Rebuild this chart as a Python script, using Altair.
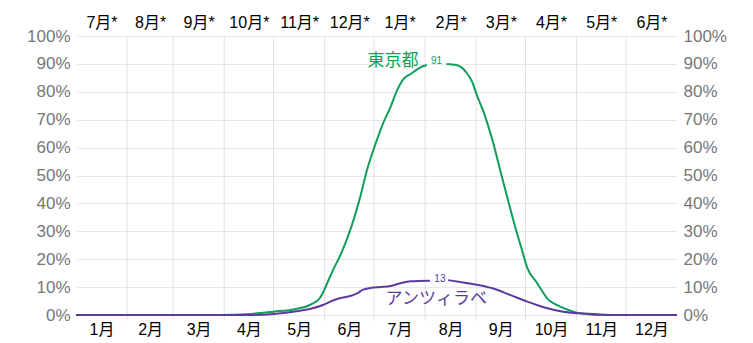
import json
import altair as alt
import pandas as pd

# ---- data ----
month_starts = [31, 59, 90, 120, 151, 181, 212, 243, 273, 304, 334]
month_mids = [15.5, 45, 74.5, 105, 135.5, 166, 196.5, 227.5, 258, 288.5, 319, 349.5]
bottom_labels = ["1月", "2月", "3月", "4月", "5月", "6月", "7月", "8月", "9月", "10月", "11月", "12月"]
top_labels = ["7月*", "8月*", "9月*", "10月*", "11月*", "12月*", "1月*", "2月*", "3月*", "4月*", "5月*", "6月*"]
y_ticks = [0, 10, 20, 30, 40, 50, 60, 70, 80, 90, 100]

tokyo_day = [0, 60, 87, 106, 120, 132, 143, 148, 150, 153, 156, 161, 166, 172, 177, 182, 186, 191, 195, 199, 203, 209, 213,
             225, 231, 237, 241, 243, 248, 253, 258, 262, 267, 271, 274, 280, 284, 286, 292, 302, 306, 312, 318, 340, 365]
tokyo_val = [0, 0, 0, 0.4, 1.2, 2.0, 3.9, 6.0, 8.0, 12.0, 16.0, 22.0, 29.5, 41.0, 52.5, 61.5, 68.0, 74.5, 80.5, 84.6, 86.3, 88.7, 89.6,
             90.0, 89.6, 87.0, 83.0, 79.5, 72.0, 62.5, 51.0, 42.0, 31.0, 23.0, 17.0, 11.5, 7.8, 6.0, 3.6, 1.2, 0.6, 0.2, 0, 0, 0]
tokyo_seg = [0 if d < 219 else 1 for d in tokyo_day]
tokyo_peak_day, tokyo_peak = 219, 91

ants_day = [0, 60, 87, 106, 120, 132, 143, 150, 156, 159, 168, 171, 174, 179, 185, 191, 197, 203, 215,
            226, 237, 245, 253, 264, 274, 284, 296, 306, 318, 330, 365]
ants_val = [0, 0, 0, 0, 0.4, 1.2, 2.3, 3.6, 5.2, 5.8, 7.1, 7.8, 9.0, 9.7, 10.0, 10.4, 11.4, 12.1, 12.3,
            12.5, 11.5, 10.7, 9.6, 7.1, 4.8, 2.8, 1.2, 0.6, 0.2, 0, 0]
ants_seg = [0 if d < 221 else 1 for d in ants_day]
ants_peak_day, ants_peak = 221, 13

green = "#0f9f5b"
purple = "#5b3c9e"
font = "Liberation Sans, Noto Sans CJK JP"

df_t = pd.DataFrame({"day": tokyo_day, "val": tokyo_val, "seg": tokyo_seg})
df_a = pd.DataFrame({"day": ants_day, "val": ants_val, "seg": ants_seg})
df_grid = pd.DataFrame({"day": month_starts, "top": [100] * len(month_starts), "bot": [-2] * len(month_starts)})

xs = alt.Scale(domain=[0, 365], nice=False, zero=False)
ys = alt.Scale(domain=[0, 100], nice=False)

bottom_expr = f"{json.dumps(bottom_labels, ensure_ascii=False)}[indexof({json.dumps(month_mids)}, datum.value)]"
top_expr = f"{json.dumps(top_labels, ensure_ascii=False)}[indexof({json.dumps(month_mids)}, datum.value)]"

grid = alt.Chart(df_grid).mark_rule(color="#e0e0e0", strokeWidth=1).encode(
    x=alt.X("day:Q", scale=xs, axis=None),
    y=alt.Y("top:Q", scale=ys, axis=None),
    y2="bot:Q",
)

tokyo = alt.Chart(df_t).mark_line(color=green, strokeWidth=2, interpolate="monotone").encode(
    x=alt.X("day:Q", scale=xs, axis=alt.Axis(orient="bottom", values=month_mids, labelExpr=bottom_expr,
                                            grid=False, ticks=False, domain=False, title=None,
                                            labelFontSize=16, labelColor="#000", labelPadding=6,
                                            labelFont=font)),
    y=alt.Y("val:Q", scale=ys, axis=alt.Axis(orient="left", values=y_ticks, labelExpr="datum.value + '%'",
                                            grid=True, gridColor="#e8e8e8", ticks=False, domain=False,
                                            title=None, labelFontSize=17, labelColor="#777",
                                            labelPadding=6, labelFont=font)),
    detail="seg:N",
)

ants = alt.Chart(df_a).mark_line(color=purple, strokeWidth=2, interpolate="monotone").encode(
    x=alt.X("day:Q", scale=xs, axis=alt.Axis(orient="top", values=month_mids, labelExpr=top_expr,
                                            grid=False, ticks=False, domain=False, title=None,
                                            labelFontSize=16, labelColor="#000", labelPadding=6,
                                            labelFont=font)),
    y=alt.Y("val:Q", scale=ys, axis=alt.Axis(orient="right", values=y_ticks, labelExpr="datum.value + '%'",
                                            grid=False, ticks=False, domain=False, title=None,
                                            labelFontSize=17, labelColor="#777", labelPadding=6,
                                            labelFont=font)),
    detail="seg:N",
)

peak_df = pd.DataFrame({"day": [tokyo_peak_day, ants_peak_day], "val": [tokyo_peak, ants_peak],
                        "txt": [str(tokyo_peak), str(ants_peak)], "c": [green, purple]})
peaks = alt.Chart(peak_df).mark_text(fontSize=10, font=font, align="center", baseline="middle").encode(
    x=alt.X("day:Q", scale=xs, axis=None),
    y=alt.Y("val:Q", scale=ys, axis=None),
    text="txt:N",
    color=alt.Color("c:N", scale=None),
)

name_t = alt.Chart(pd.DataFrame({"day": [208], "val": [91], "txt": ["東京都"]})).mark_text(
    fontSize=17, font=font, align="right", baseline="middle", color=green).encode(
    x=alt.X("day:Q", scale=xs, axis=None), y=alt.Y("val:Q", scale=ys, axis=None), text="txt:N")

name_a = alt.Chart(pd.DataFrame({"day": [188], "val": [5.9], "txt": ["アンツィラベ"]})).mark_text(
    fontSize=17, font=font, align="left", baseline="middle", color=purple).encode(
    x=alt.X("day:Q", scale=xs, axis=None), y=alt.Y("val:Q", scale=ys, axis=None), text="txt:N")

chart = alt.layer(grid, tokyo, ants, peaks, name_t, name_a).resolve_axis(
    x="independent", y="independent"
).properties(
    width=601, height=279,
    padding={"left": 76, "top": 36, "right": 76, "bottom": 28},
    autosize=alt.AutoSizeParams(type="none"),
).configure_view(stroke=None)

chart.save("out.html", embed_options={"renderer": "svg", "actions": False})
